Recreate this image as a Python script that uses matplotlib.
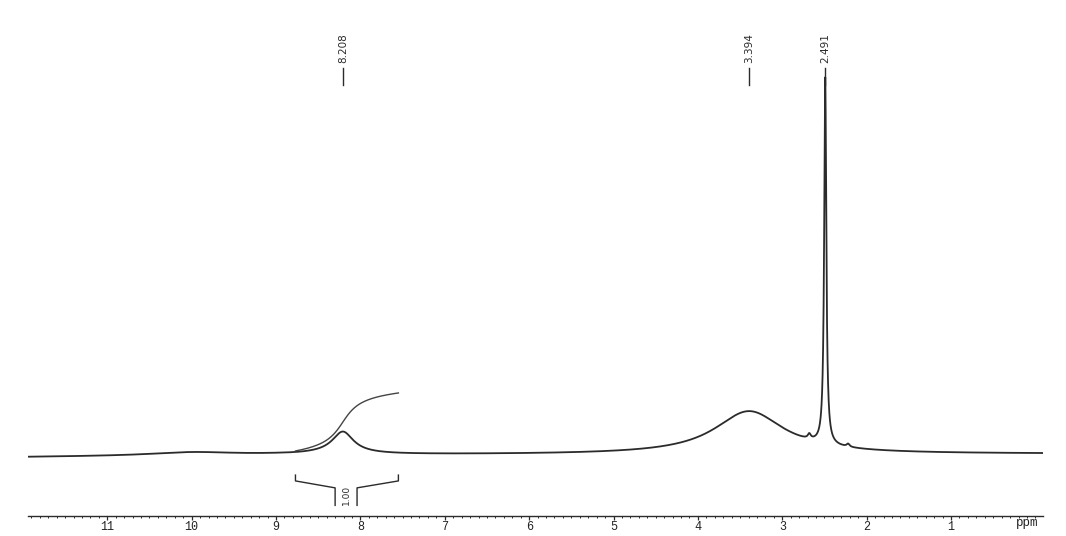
import numpy as np
import matplotlib.pyplot as plt

# peaks (ppm, relative height, half width)
peak_ppm = [10.0, 8.208, 8.25, 3.394, 2.68, 2.491, 2.22]
peak_height = [0.9, 5.6, 0.6, 11.8, 1.3, 100.5, 0.8]
peak_width = [0.6, 0.15, 0.35, 0.50, 0.02, 0.015, 0.02]

# slight baseline drift
base_ppm = [11.94, 9.0, -0.09]
base_val = [-0.6, 0.0, 0.3]

# peak picking labels
label_ppm = [8.208, 3.394, 2.491]
label_text = ["8.208", "3.394", "2.491"]

# integral region
integral_from = 8.77
integral_to = 7.55
integral_start = 1.1
integral_end = 17.0
integral_value = "1.00"

major_ticks = list(range(1, 12))

# spectrum
ppm = np.linspace(11.94, -0.09, 8000)
base = np.interp(ppm[::-1], base_ppm[::-1], base_val[::-1])[::-1]
spec = base.copy()
for p, h, w in zip(peak_ppm, peak_height, peak_width):
    spec += h / (1 + ((ppm - p) / w) ** 2)

ink = "#2b2b2b"

fig = plt.figure(figsize=(10.66, 5.36), dpi=100)
ax = fig.add_axes([28 / 1066, 20 / 536, 1015 / 1066, 516 / 536])

ax.plot(ppm, spec, color=ink, lw=1.3)

# integral curve
m = (ppm <= integral_from) & (ppm >= integral_to)
cum = np.cumsum(spec[m] - base[m])
cum = cum / cum[-1]
ax.plot(ppm[m], integral_start + (integral_end - integral_start) * cum,
        color="#444444", lw=1.0)

# integral bracket under the peak
c = 8.17
ax.plot([integral_from, integral_from, c + 0.13, c + 0.13],
        [-5.5, -7.1, -9.0, -13.8], color=ink, lw=1.0)
ax.plot([integral_to, integral_to, c - 0.13, c - 0.13],
        [-5.5, -7.1, -9.0, -13.8], color=ink, lw=1.0)
ax.text(c, -13.8, integral_value, rotation=90, ha="center", va="bottom",
        fontsize=6.5, color=ink, family="DejaVu Sans")

# peak labels
for p, t in zip(label_ppm, label_text):
    ax.plot([p, p], [101.4, 106.0], color=ink, lw=1.0)
    ax.text(p, 107.3, t, rotation=90, ha="center", va="bottom",
            fontsize=7.5, color=ink, family="DejaVu Sans")

ax.set_xlim(11.94, -0.09)
ax.set_ylim(-16.71, 124.66)

for s in ["top", "left", "right"]:
    ax.spines[s].set_visible(False)
ax.spines["bottom"].set_color(ink)
ax.spines["bottom"].set_linewidth(1.0)
ax.set_yticks([])
ax.set_xticks(major_ticks)
ax.set_xticklabels([str(t) for t in major_ticks], family="Liberation Mono",
                   fontsize=8.5, color="#222222")
ax.set_xticks(np.arange(0.0, 11.95, 0.1), minor=True)
ax.tick_params(axis="x", which="major", direction="out", length=3.0,
               width=0.9, color=ink, pad=0.5)
ax.tick_params(axis="x", which="minor", direction="out", length=1.5,
               width=0.7, color=ink)

ax.text(0.10, -10 / 516, "ppm", transform=ax.get_xaxis_transform(),
        ha="center", va="baseline", family="Liberation Mono", fontsize=9,
        color="#222222")

fig.savefig("out.png", dpi=100)
